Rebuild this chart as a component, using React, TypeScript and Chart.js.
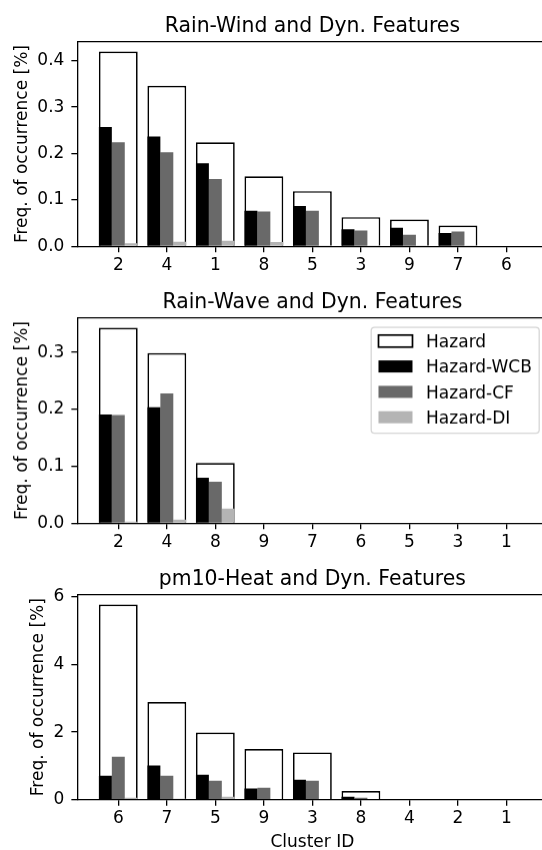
import React, { useEffect, useRef } from 'react';
import { Chart, registerables } from 'chart.js';

Chart.register(...registerables);
Chart.defaults.font.family = '"DejaVu Sans", sans-serif';

// ---------- data ----------
const titles = ['Rain-Wind and Dyn. Features', 'Rain-Wave and Dyn. Features', 'pm10-Heat and Dyn. Features'];
const seriesNames = ['Hazard', 'Hazard-WCB', 'Hazard-CF', 'Hazard-DI'];

const cats1 = ['2', '4', '1', '8', '5', '3', '9', '7', '6'];
const hazard1 = [0.420, 0.346, 0.2245, 0.151, 0.119, 0.063, 0.058, 0.045, 0];
const wcb1 = [0.257, 0.237, 0.179, 0.077, 0.087, 0.037, 0.040, 0.029, 0];
const cf1 = [0.2245, 0.203, 0.145, 0.075, 0.077, 0.034, 0.025, 0.032, 0];
const di1 = [0.007, 0.010, 0.012, 0.0095, 0.001, 0.002, 0.001, 0.001, 0];
const yTicks1 = [0, 0.1, 0.2, 0.3, 0.4];

const cats2 = ['2', '4', '8', '9', '7', '6', '5', '3', '1'];
const hazard2 = [0.3435, 0.299, 0.106, 0, 0, 0, 0, 0, 0];
const wcb2 = [0.191, 0.2036, 0.080, 0, 0, 0, 0, 0, 0];
const cf2 = [0.190, 0.228, 0.073, 0, 0, 0, 0, 0, 0];
const di2 = [0.003, 0.0065, 0.026, 0, 0, 0, 0, 0, 0];
const yTicks2 = [0, 0.1, 0.2, 0.3];

const cats3 = ['6', '7', '5', '9', '3', '8', '4', '2', '1'];
const hazard3 = [5.78, 2.89, 1.99, 1.50, 1.40, 0.255, 0, 0, 0];
const wcb3 = [0.71, 1.01, 0.74, 0.33, 0.59, 0.09, 0, 0, 0];
const cf3 = [1.27, 0.71, 0.56, 0.355, 0.56, 0.06, 0, 0, 0];
const di3 = [0.06, 0.03, 0.09, 0, 0, 0, 0, 0, 0];
const yTicks3 = [0, 2, 4, 6];

const xTitle = 'Cluster ID';
const yTitle = 'Freq. of occurrence [%]';

// ---------- styles ----------
const COLORS = ['#ffffff', '#000000', '#696969', '#b4b4b4'];
const TICK_FONT = 17;
const TITLE_FONT = 20.4;
const CANVAS_W = 560;
const PLOT_LEFT = 77.3;
const PLOT_RIGHT = 547.5;
const PLOT_TOP = 41.7;
const PLOT_H = 205;
const TICK_LEN = 5.95;
const X_MIN = -0.845;
const X_MAX = 8.845;

type Spec = {
  title: string;
  cats: string[];
  hazard: number[];
  wcb: number[];
  cf: number[];
  di: number[];
  yTicks: number[];
  decimals: number;
  top: number;
  height: number;
  legend: boolean;
  xTitle: boolean;
  yTitlePad: number;
};

const specs: Spec[] = [
  { title: titles[0], cats: cats1, hazard: hazard1, wcb: wcb1, cf: cf1, di: di1, yTicks: yTicks1, decimals: 1, top: 0, height: 276.3, legend: false, xTitle: false, yTitlePad: 12.3 },
  { title: titles[1], cats: cats2, hazard: hazard2, wcb: wcb2, cf: cf2, di: di2, yTicks: yTicks2, decimals: 1, top: 276.3, height: 276.3, legend: true, xTitle: false, yTitlePad: 12.3 },
  { title: titles[2], cats: cats3, hazard: hazard3, wcb: wcb3, cf: cf3, di: di3, yTicks: yTicks3, decimals: 0, top: 552.6, height: 300, legend: false, xTitle: true, yTitlePad: 28.6 },
];

const decorPlugin = {
  id: 'decor',
  afterDraw(chart: any, _args: any, opts: any) {
    const { ctx, chartArea: a } = chart;
    ctx.save();
    ctx.strokeStyle = '#000';
    ctx.lineWidth = 1.3;
    ctx.beginPath();
    ctx.moveTo(a.left, a.top);
    ctx.lineTo(a.right, a.top);
    ctx.lineTo(a.right, a.bottom);
    ctx.stroke();
    ctx.fillStyle = '#000';
    ctx.font = `${TITLE_FONT}px "DejaVu Sans"`;
    ctx.textAlign = 'center';
    ctx.textBaseline = 'alphabetic';
    ctx.fillText(opts.title, (a.left + a.right) / 2, a.top - 10.2);
    if (opts.legend) {
      const ds = chart.data.datasets;
      ctx.font = `${TICK_FONT}px "DejaVu Sans"`;
      let maxW = 0;
      ds.forEach((d: any) => { maxW = Math.max(maxW, ctx.measureText(d.label).width); });
      const pad = 7.3, handle = 34, gap = 13.6, rowH = 25.3;
      const w = pad + handle + gap + maxW + pad;
      const h = 105.6;
      const right = a.right - 8.3;
      const left = right - w;
      const top = a.top + 9.4;
      ctx.beginPath();
      ctx.roundRect(left, top, w, h, 3.4);
      ctx.fillStyle = 'rgba(255,255,255,0.8)';
      ctx.fill();
      ctx.strokeStyle = '#d6d6d6';
      ctx.lineWidth = 1.3;
      ctx.stroke();
      ds.forEach((d: any, k: number) => {
        const cy = top + 13.7 + k * rowH;
        const px = left + pad;
        ctx.fillStyle = d.backgroundColor;
        ctx.fillRect(px, cy - 6, handle, 12);
        if (d.borderWidth > 0) {
          ctx.strokeStyle = d.borderColor;
          ctx.lineWidth = 1.7;
          ctx.strokeRect(px, cy - 6, handle, 12);
        }
        ctx.fillStyle = '#000';
        ctx.textAlign = 'left';
        ctx.textBaseline = 'alphabetic';
        ctx.fillText(d.label, px + handle + gap, cy + 6.2);
      });
    }
    ctx.restore();
  },
};

function buildConfig(s: Spec): any {
  const pts = (arr: number[]) => arr.map((v, i) => ({ x: i, y: v }));
  const yMax = Math.max(...s.hazard) * 1.05;
  const xAxisH = s.height - PLOT_TOP - PLOT_H;
  return {
    type: 'bar',
    data: {
      datasets: [
        { label: seriesNames[0], data: pts(s.hazard), grouped: false, backgroundColor: COLORS[0], borderColor: '#000', borderWidth: 1.7, categoryPercentage: 0.8, barPercentage: 1, order: 1 },
        { label: seriesNames[1], data: pts(s.wcb), backgroundColor: COLORS[1], borderWidth: 0, categoryPercentage: 0.8, barPercentage: 1, order: 0 },
        { label: seriesNames[2], data: pts(s.cf), backgroundColor: COLORS[2], borderWidth: 0, categoryPercentage: 0.8, barPercentage: 1, order: 0 },
        { label: seriesNames[3], data: pts(s.di), backgroundColor: COLORS[3], borderWidth: 0, categoryPercentage: 0.8, barPercentage: 1, order: 0 },
      ],
    },
    options: {
      animation: false,
      responsive: false,
      maintainAspectRatio: false,
      events: [],
      layout: { padding: { top: PLOT_TOP, left: 0, right: CANVAS_W - PLOT_RIGHT, bottom: 0 } },
      plugins: {
        legend: { display: false },
        tooltip: { enabled: false },
        title: { display: false },
        decor: { title: s.title, legend: s.legend },
      },
      scales: {
        x: {
          type: 'linear',
          position: 'bottom',
          min: X_MIN,
          max: X_MAX,
          bounds: 'data',
          offset: false,
          grid: { display: true, offset: false, drawOnChartArea: false, drawTicks: true, tickLength: TICK_LEN, color: '#000', lineWidth: 1.3 },
          border: { display: true, color: '#000', width: 1.3 },
          ticks: {
            autoSkip: false,
            maxRotation: 0,
            color: '#000',
            padding: 3,
            font: { size: TICK_FONT },
            callback: (v: number) => s.cats[v] ?? '',
          },
          title: {
            display: s.xTitle,
            text: xTitle,
            color: '#000',
            font: { size: TICK_FONT },
            padding: { top: 0, bottom: 0 },
          },
          afterBuildTicks: (sc: any) => { sc.ticks = s.cats.map((_, i) => ({ value: i })); },
          afterFit: (sc: any) => { sc.height = xAxisH; sc.paddingLeft = 0; sc.paddingRight = 0; },
        },
        y: {
          type: 'linear',
          position: 'left',
          min: 0,
          max: yMax,
          bounds: 'data',
          grid: { display: true, drawOnChartArea: false, drawTicks: true, tickLength: TICK_LEN, color: '#000', lineWidth: 1.3 },
          border: { display: true, color: '#000', width: 1.3 },
          ticks: {
            color: '#000',
            padding: 7,
            font: { size: TICK_FONT },
            callback: (v: number) => v.toFixed(s.decimals),
          },
          title: {
            display: true,
            text: yTitle,
            color: '#000',
            font: { size: TICK_FONT },
            padding: { top: s.yTitlePad, bottom: 0 },
          },
          afterBuildTicks: (sc: any) => { sc.ticks = s.yTicks.map((v) => ({ value: v })); },
          afterFit: (sc: any) => { sc.width = PLOT_LEFT; sc.paddingTop = 0; sc.paddingBottom = 0; },
        },
      },
    },
    plugins: [decorPlugin],
  };
}

function Panel({ spec }: { spec: Spec }) {
  const ref = useRef<HTMLCanvasElement>(null);
  useEffect(() => {
    if (!ref.current) return;
    const chart = new Chart(ref.current, buildConfig(spec));
    return () => chart.destroy();
  }, [spec]);
  return (
    <canvas
      ref={ref}
      width={CANVAS_W}
      height={spec.height}
      style={{ position: 'absolute', left: 0, top: spec.top, width: CANVAS_W, height: spec.height }}
    />
  );
}

export default function App() {
  return (
    <div style={{ position: 'absolute', left: 0, top: 0, width: 542, height: 850, overflow: 'hidden', background: '#fff' }}>
      {specs.map((s, i) => (
        <Panel key={i} spec={s} />
      ))}
    </div>
  );
}
